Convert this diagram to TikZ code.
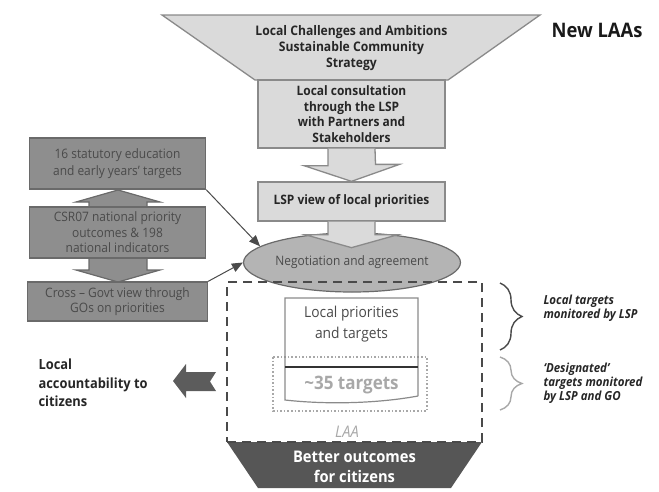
\documentclass[tikz,border=0pt]{standalone}
\usepackage{fontspec}
\setmainfont{Open Sans}[FakeStretch=0.92]
\usetikzlibrary{calc,arrows.meta,shapes.geometric,decorations.pathreplacing}
\definecolor{lightfill}{HTML}{DADADA}
\definecolor{lightedge}{HTML}{8A8A8A}
\definecolor{darkfill}{HTML}{8E8E8E}
\definecolor{darkedge}{HTML}{6A6A6A}
\definecolor{darktext}{HTML}{4A4A4A}
\definecolor{ovalfill}{HTML}{B4B4B4}
\definecolor{basefill}{HTML}{565656}
\definecolor{softgrey}{HTML}{A8A8A8}

\begin{document}
\begin{tikzpicture}[x=1pt, y=-1pt, node distance={69pt},
    light/.style = {draw=lightedge, fill=lightfill, line width=1.3pt},
    lbox/.style = {light, minimum width=187pt, align=center, text=black!85, font=\fontsize{13}{15.5}\selectfont\bfseries},
    dbox/.style = {draw=darkedge, fill=darkfill, line width=1.3pt, minimum width=176pt, minimum height=51pt, align=center, text=darktext, font=\fontsize{13}{15.5}\selectfont},
    note/.style = {anchor=west, align=left, text=black!85, font=\fontsize{12.5}{14}\selectfont\bfseries\itshape},
    tip/.style = {-{Triangle[length=11pt,width=9pt]}, draw=darktext, line width=1pt}]

\useasboundingbox (0,0) rectangle (659,491);

% funnel at the top
\draw[light] (162,15) -- (540,15) -- (448,80) -- (255,80) -- cycle;
\node[font=\fontsize{13.2}{16}\selectfont\bfseries, align=center, text=black!85] (top) at (351.5,48) {Local Challenges and Ambitions\\Sustainable Community\\Strategy};
\node[font=\fontsize{20}{22}\selectfont\bfseries, text=black!90] (new) at (597,30) {New LAAs};

\node[lbox, minimum height=68pt] (cons) at (351.5,114) {Local consultation\\through the LSP\\with Partners and\\Stakeholders};
\node[lbox, minimum height=39pt] (lsp) at (351.5,201.5) {LSP view of local priorities};
\draw[light] ($(cons.south)+(-23.5,0)$) -- ++(0,17) -- ++(-24,0) -- (lsp.north) -- ++(48,-17) -- ++(-24,0) -- ($(cons.south)+(23.5,0)$);

\node[ellipse, draw=darkedge, fill=ovalfill, line width=1.2pt, minimum width=180pt, minimum height=59pt, inner sep=0pt, text=darktext, font=\fontsize{13}{15}\selectfont] (neg) at (352,262.5) {Negotiation and agreement};
\draw[light] ($(lsp.south)+(-23.5,0)$) -- ++(0,13) -- ++(-23,0) -- ($(lsp.south)+(0,26)$) -- ++(46.5,-13) -- ++(-23,0) -- ($(lsp.south)+(23.5,0)$);

% national side
\draw[draw=darkedge, fill=darkfill, line width=1.2pt] (118,190) -- (160,202) -- (147,202) -- (147,270) -- (160,270) -- (118,282) -- (76,270) -- (89,270) -- (89,202) -- (76,202) -- cycle;
\node[dbox, font=\fontsize{13}{17.5}\selectfont] (b1) at (117.5,163.5) {16 statutory education\\and early years' targets};
\node[dbox] (b2) [below of=b1] {CSR07 national priority\\outcomes \& 198\\national indicators};
\node[dbox, minimum height=39pt, minimum width=180pt] (b3) [below of=b2] {Cross -- Govt view through\\GOs on priorities};

\draw[tip] (b1.south east) -- (neg.170);
\draw[tip] (b3.north east) -- (neg.west);

% the agreement
\fill[basefill] (227,442) -- (482,442) -- (451,488) -- (258,488) -- cycle;
\node[text=white, align=center, font=\fontsize{16}{20}\selectfont\bfseries] (base) at (354.5,467) {Better outcomes\\for citizens};

\draw[dotted, softgrey, line width=1.6pt] (273,357) rectangle (427,411);
\draw[lightedge, line width=1.2pt] (418,396) -- (418,298) -- (285,298) -- (285,400) .. controls (330,405) and (380,403) .. (418,396);
\draw[black!80, line width=1.8pt] (285,367) -- (418,367);
\node[align=center, text=darktext, font=\fontsize{15}{21}\selectfont] (lp) at (351.5,324) {Local priorities\\and targets};
\node[text=softgrey, font=\fontsize{18.5}{20}\selectfont\bfseries] (t35) at (351.5,385) {\textasciitilde35 targets};

\node[draw=darktext, dashed, dash pattern=on 9pt off 6pt, line width=2.2pt, minimum width=255pt, minimum height=160pt] (laa) at (354.5,362) {};
\node[text=softgrey, font=\fontsize{16}{18}\selectfont\itshape] (laatxt) at (347,432) {LAA};

% monitoring
\draw[decorate, decoration={brace, amplitude=22pt}, darktext, line width=1.4pt] (500,283) -- (500,350);
\draw[decorate, decoration={brace, amplitude=22pt}, softgrey, line width=1.4pt] (500,357) -- (500,410);
\node[note] (mon1) at (540,308) {Local targets\\monitored by LSP};
\node[note] (mon2) at (540,383) {`Designated'\\targets monitored\\by LSP and GO};

% accountability
\fill[darktext!90] (173,381) -- (186,364) -- (186,372) -- (216,372) -- (210,381.5) -- (216,391) -- (186,391) -- (186,398) -- cycle;
\node[anchor=west, align=left, text=black!85, font=\fontsize{14}{18.5}\selectfont\bfseries] (acc) at (35,383) {Local\\accountability to\\citizens};
\end{tikzpicture}
\end{document}
